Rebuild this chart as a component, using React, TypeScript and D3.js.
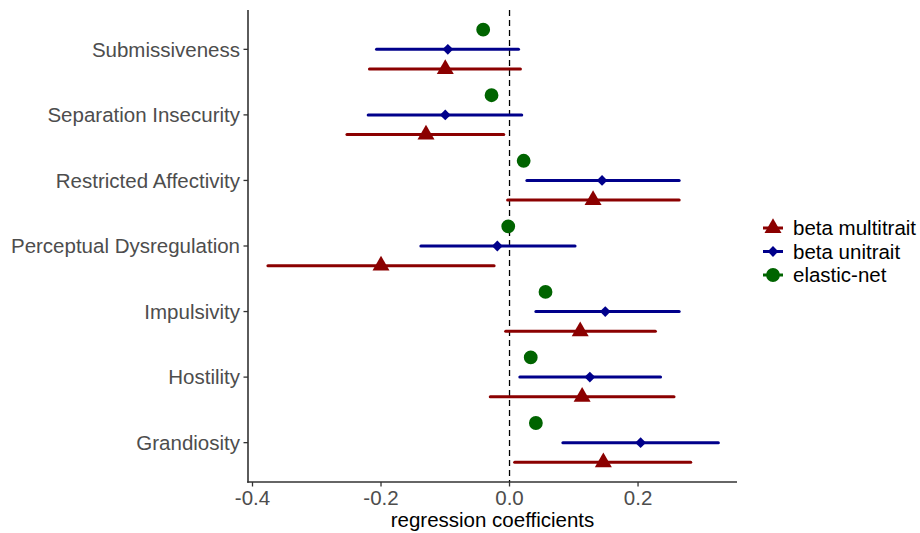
import React from "react";
import { scaleLinear, scaleBand, symbol, symbolTriangle, symbolSquare, symbolCircle } from "d3";

// categories top to bottom
const traits = [
  "Submissiveness",
  "Separation Insecurity",
  "Restricted Affectivity",
  "Perceptual Dysregulation",
  "Impulsivity",
  "Hostility",
  "Grandiosity",
];

const multiEst = [-0.1, -0.13, 0.13, -0.2, 0.11, 0.113, 0.146];
const multiLo = [-0.218, -0.253, -0.003, -0.376, -0.006, -0.03, 0.008];
const multiHi = [0.017, -0.009, 0.264, -0.024, 0.227, 0.256, 0.282];

const uniEst = [-0.096, -0.1, 0.144, -0.019, 0.149, 0.125, 0.204];
const uniLo = [-0.207, -0.22, 0.027, -0.138, 0.041, 0.016, 0.083];
const uniHi = [0.014, 0.019, 0.264, 0.102, 0.264, 0.235, 0.325];

const enetEst = [-0.041, -0.028, 0.022, -0.002, 0.056, 0.033, 0.041];

const xTicks = [-0.4, -0.2, 0.0, 0.2];
const legendLabels = ["beta multitrait", "beta unitrait", "elastic-net"];

const RED = "#8B0000";
const BLUE = "#00008B";
const GREEN = "#006400";
const FONT = "'Liberation Sans', Arial, sans-serif";

export default function App() {
  const W = 920;
  const H = 533;
  const left = 248;
  const right = 737;
  const top = 10;
  const bottom = 482;

  const x = scaleLinear().domain([-0.407, 0.354]).range([left, right]);
  const y = scaleBand<string>()
    .domain(traits)
    .range([top, bottom])
    .paddingOuter(0.1)
    .paddingInner(0);
  const yc = (t: string) => (y(t) as number) + y.bandwidth() / 2;
  const dodge = y.bandwidth() * 0.3;

  const tri = symbol().type(symbolTriangle).size(125)() as string;
  const dia = symbol().type(symbolSquare).size(58)() as string;
  const circ = symbol().type(symbolCircle).size(150)() as string;

  const series = [
    { est: multiEst, lo: multiLo, hi: multiHi, color: RED, path: tri, rot: 0, off: dodge },
    { est: uniEst, lo: uniLo, hi: uniHi, color: BLUE, path: dia, rot: 45, off: 0 },
  ];

  return (
    <svg
      width={W}
      height={H}
      style={{ position: "absolute", left: 0, top: 0, background: "#fff" }}
    >
      {/* zero reference */}
      <line
        x1={x(0)}
        x2={x(0)}
        y1={top}
        y2={bottom}
        stroke="#000"
        strokeWidth={1.3}
        strokeDasharray="6,4"
      />

      {series.map((s, si) => (
        <g key={si}>
          {traits.map((t, i) => (
            <g key={t}>
              <line
                x1={x(s.lo[i])}
                x2={x(s.hi[i])}
                y1={yc(t) + s.off}
                y2={yc(t) + s.off}
                stroke={s.color}
                strokeWidth={3}
                strokeLinecap="round"
              />
              <path
                d={s.path}
                fill={s.color}
                transform={`translate(${x(s.est[i])},${yc(t) + s.off}) rotate(${s.rot})`}
              />
            </g>
          ))}
        </g>
      ))}

      {traits.map((t, i) => (
        <path
          key={t}
          d={circ}
          fill={GREEN}
          transform={`translate(${x(enetEst[i])},${yc(t) - dodge})`}
        />
      ))}

      {/* axes */}
      <line x1={left} x2={left} y1={top} y2={bottom + 0.8} stroke="#333" strokeWidth={1.6} />
      <line x1={left - 0.8} x2={right} y1={bottom} y2={bottom} stroke="#333" strokeWidth={1.6} />

      {traits.map((t) => (
        <g key={t}>
          <line x1={left - 4.5} x2={left} y1={yc(t)} y2={yc(t)} stroke="#333" strokeWidth={1.3} />
          <text
            x={left - 8}
            y={yc(t)}
            dy="0.36em"
            textAnchor="end"
            fontFamily={FONT}
            fontSize={20.5}
            fill="#4d4d4d"
          >
            {t}
          </text>
        </g>
      ))}

      {xTicks.map((v) => (
        <g key={v}>
          <line x1={x(v)} x2={x(v)} y1={bottom} y2={bottom + 4.5} stroke="#333" strokeWidth={1.3} />
          <text
            x={x(v)}
            y={505}
            textAnchor="middle"
            fontFamily={FONT}
            fontSize={20.5}
            fill="#4d4d4d"
          >
            {v.toFixed(1)}
          </text>
        </g>
      ))}

      <text
        x={(left + right) / 2}
        y={527}
        textAnchor="middle"
        fontFamily={FONT}
        fontSize={20.5}
        fill="#000"
      >
        regression coefficients
      </text>

      {/* legend */}
      {legendLabels.map((lab, i) => {
        const ly = 228 + i * 23.5;
        const color = [RED, BLUE, GREEN][i];
        const p = [tri, dia, circ][i];
        const rot = i === 1 ? 45 : 0;
        return (
          <g key={lab}>
            <line x1={763} x2={783} y1={ly} y2={ly} stroke={color} strokeWidth={3} />
            <path d={p} fill={color} transform={`translate(773,${ly}) rotate(${rot})`} />
            <text x={793} y={ly} dy="0.36em" fontFamily={FONT} fontSize={20.5} fill="#000">
              {lab}
            </text>
          </g>
        );
      })}
    </svg>
  );
}
